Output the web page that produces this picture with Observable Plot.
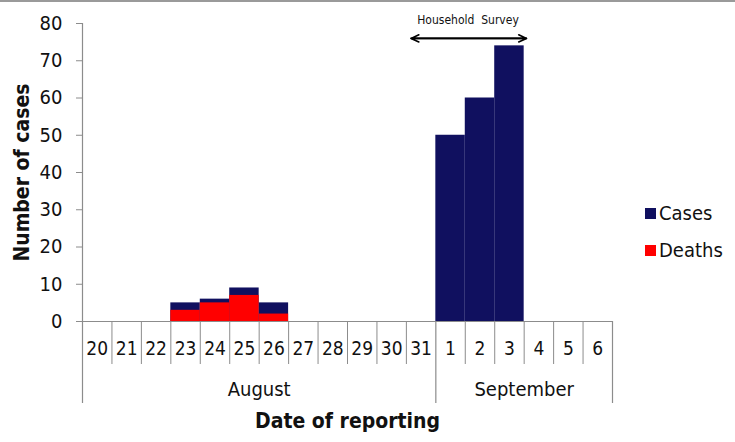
<!DOCTYPE html>
<html><head><meta charset="utf-8">
<script src="https://cdn.jsdelivr.net/npm/d3@7"></script>
<script src="https://cdn.jsdelivr.net/npm/@observablehq/plot@0.6"></script>
<style>
body{margin:0;background:#fff;}
#wrap{position:relative;width:735px;height:442px;overflow:hidden;font-family:"DejaVu Sans Condensed","DejaVu Sans",sans-serif;color:#111;}
#topline{position:absolute;left:0;top:0;width:735px;height:2px;background:#9a9a9a;}
#chart{position:absolute;left:0;top:0;}
.lg{position:absolute;left:645px;font-size:20px;line-height:20px;display:flex;align-items:center;gap:3px;}
.lg span.sw{display:inline-block;width:11px;height:11px;}
</style></head><body>
<div id="wrap"><div id="topline"></div><div id="chart"></div><div id="legend"></div></div>
<script>
const days = ["20","21","22","23","24","25","26","27","28","29","30","31","1","2","3","4","5","6"];
const cases = [0,0,0,5,6,9,5,0,0,0,0,0,50,60,74,0,0,0];
const deaths = [0,0,0,3,5,7,2,0,0,0,0,0,0,0,0,0,0,0];
const yTicks = [0,10,20,30,40,50,60,70,80];
const monthNames = ["August","September"];
const monthStarts = ["20","1"];
const monthCenterAt = ["26","4"];
const lastDay = "6";
const seriesNames = ["Cases","Deaths"];
const seriesColors = ["#10105f","#ff0000"];
const surveyLabel = "Household  Survey";
const surveyFrom = "31", surveyTo = "3", surveyMid = "2", surveyLevel = 76;
const xTitle = "Date of reporting", yTitle = "Number of cases";

const rows = days.map((d,i)=>({day:d, cases:cases[i], deaths:deaths[i]}));
const months = monthNames.map((m,i)=>({month:m, at:monthCenterAt[i]}));
const survey = [{from:surveyFrom, to:surveyTo, mid:surveyMid, level:surveyLevel, label:surveyLabel}];

const W=735,H=442,ML=82,MR=123,MT=23,MB=121;
const bw=(W-ML-MR)/days.length;
const plotH=H-MT-MB;
const grey="#8c8c8c";
const font="DejaVu Sans Condensed";

const chart = Plot.plot({
  width:W, height:H, marginLeft:ML, marginRight:MR, marginTop:MT, marginBottom:MB,
  style:{fontFamily:font, fontSize:"18px", color:"#111", background:"transparent"},
  x:{type:"band", domain:days, padding:0, round:false},
  y:{domain:[0,80]},
  marks:[
    Plot.barY(rows,{x:"day", y:"cases", fill:seriesColors[0]}),
    Plot.barY(rows,{x:"day", y:"deaths", fill:seriesColors[1]}),
    Plot.ruleY([0],{stroke:grey, strokeWidth:1.2}),
    Plot.axisY({ticks:yTicks, tickSize:6, tickPadding:14, fontSize:20, label:null, stroke:grey, fill:"#111"}),
    Plot.axisX({tickSize:0, tickPadding:20, fontSize:19, label:null, fill:"#111"}),
    Plot.ruleX([monthStarts[0]],{dx:-bw/2, stroke:grey, strokeWidth:1.2, insetBottom:-82}),
    Plot.ruleX(monthStarts.slice(1),{dx:-bw/2, stroke:grey, strokeWidth:1.2, insetTop:plotH, insetBottom:-82}),
    Plot.ruleX([lastDay],{dx:bw/2, stroke:grey, strokeWidth:1.2, insetTop:plotH, insetBottom:-82}),
    Plot.ruleX(days.filter(d=>!monthStarts.includes(d)),{dx:-bw/2, stroke:grey, strokeWidth:1, insetTop:plotH, insetBottom:-43}),
    Plot.text(months,{x:"at", text:"month", frameAnchor:"bottom", dx:-bw/2, dy:68, lineAnchor:"middle", fontSize:20, fill:"#111"}),
    Plot.text([xTitle],{frameAnchor:"bottom", dy:100, lineAnchor:"middle", textAnchor:"middle", fontSize:21, fontWeight:"bold", fill:"#111"}),
    Plot.text([yTitle],{frameAnchor:"left", dx:-60, rotate:-90, textAnchor:"middle", lineAnchor:"middle", fontSize:21, fontWeight:"bold", fill:"#111"}),
    Plot.arrow(survey,{x1:"from", x2:"to", y1:"level", y2:"level", insetStart:-10, insetEnd:-17, headLength:8, headAngle:50, stroke:"#000", strokeWidth:1.6}),
    Plot.arrow(survey,{x1:"to", x2:"from", y1:"level", y2:"level", insetStart:-17, insetEnd:-10, headLength:8, headAngle:50, stroke:"#000", strokeWidth:1.6}),
    Plot.text(survey,{x:"mid", y:"level", text:"label", dx:-12, dy:-18, fontSize:12, fill:"#111"})
  ]
});
document.getElementById("chart").appendChild(chart);

const lg = document.getElementById("legend");
const tops = [203, 240];
seriesNames.forEach((n,i)=>{
  const d=document.createElement("div");
  d.className="lg"; d.style.top=tops[i]+"px";
  d.innerHTML=`<span class="sw" style="background:${seriesColors[i]}"></span><span>${n}</span>`;
  lg.appendChild(d);
});
</script>
</body></html>
